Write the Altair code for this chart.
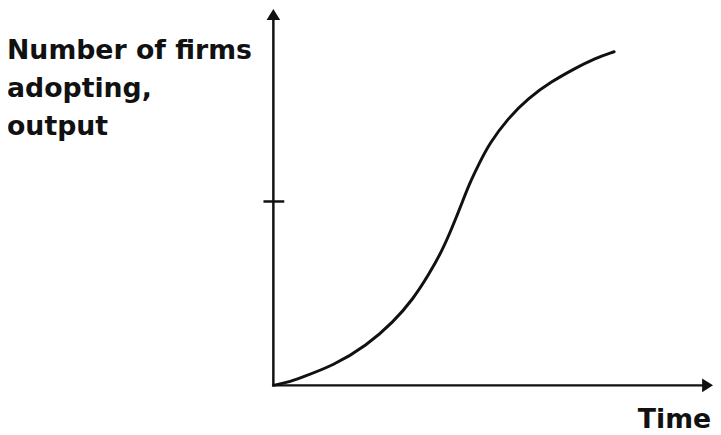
import altair as alt
import pandas as pd

# Data (arbitrary units: time 0-10, output 0-10)
curve_time = [0.0, 0.32, 0.61, 1.37, 2.12, 2.73, 3.18, 3.54, 3.85, 4.10, 4.28, 4.46, 4.68, 4.91, 5.34, 5.79, 6.33, 6.85, 7.30, 7.75]
curve_output = [0.0, 0.08, 0.20, 0.53, 1.06, 1.69, 2.30, 2.96, 3.61, 4.30, 4.83, 5.38, 5.91, 6.44, 7.12, 7.65, 8.10, 8.44, 8.71, 8.89]
tick_level = [4.9]
y_label_lines = ["Number of firms", "adopting,", "output"]
x_label = "Time"

INK = "#111111"
FONT = "DejaVu Sans"
W, H = 444, 379

xs = alt.Scale(domain=[0, 10])
ys = alt.Scale(domain=[0, 10])

curve_df = pd.DataFrame({"t": curve_time, "v": curve_output})
curve = alt.Chart(curve_df).mark_line(
    color=INK, strokeWidth=3, interpolate="basis", strokeCap="round"
).encode(
    x=alt.X("t:Q", scale=xs, axis=None),
    y=alt.Y("v:Q", scale=ys, axis=None),
)

one = pd.DataFrame({"a": [0]})

y_axis = alt.Chart(one).mark_rule(color=INK, strokeWidth=2.5).encode(
    x=alt.X(datum=0, scale=xs, axis=None),
    y=alt.Y(datum=0, scale=ys, axis=None),
    y2=alt.value(8),
)
x_axis = alt.Chart(one).mark_rule(color=INK, strokeWidth=2.5).encode(
    y=alt.Y(datum=0, scale=ys, axis=None),
    x=alt.X(datum=0, scale=xs, axis=None),
    x2=alt.value(W - 8),
)
y_arrow = alt.Chart(one).mark_point(
    shape="M0,-1L1.25,1L-1.25,1Z", filled=True, opacity=1, color=INK, size=121
).encode(
    x=alt.X(datum=0, scale=xs, axis=None),
    y=alt.value(4.5),
)
x_arrow = alt.Chart(one).mark_point(
    shape="M1,0L-1,1.25L-1,-1.25Z", filled=True, opacity=1, color=INK, size=121
).encode(
    x=alt.value(W - 5.5),
    y=alt.Y(datum=0, scale=ys, axis=None),
)

tick_df = pd.DataFrame({"lvl": tick_level})
tick = alt.Chart(tick_df).mark_rule(color=INK, strokeWidth=2.5).encode(
    y=alt.Y("lvl:Q", scale=ys, axis=None),
    x=alt.value(-10),
    x2=alt.value(11),
)

label_df = pd.DataFrame({"txt": y_label_lines, "row": list(range(len(y_label_lines)))})
ylab = alt.Chart(label_df).mark_text(
    align="left", baseline="alphabetic", font=FONT, fontWeight="bold", fontSize=27, color=INK
).transform_calculate(
    py="49 + datum.row * 38.5"
).encode(
    x=alt.value(-269),
    y=alt.Y("py:Q", scale=alt.Scale(domain=[0, H], range=[0, H]), axis=None),
    text="txt:N",
)

xlab = alt.Chart(pd.DataFrame({"txt": [x_label]})).mark_text(
    align="left", baseline="alphabetic", font=FONT, fontWeight="bold", fontSize=27, color=INK
).encode(
    x=alt.value(368),
    y=alt.value(422),
    text="txt:N",
)

chart = alt.layer(
    curve, y_axis, x_axis, y_arrow, x_arrow, tick, ylab, xlab
).resolve_scale(y="independent").properties(
    width=W, height=H,
    autosize=alt.AutoSizeParams(type="none"),
    padding={"left": 268, "top": 0, "right": 0, "bottom": 48},
    view=alt.ViewBackground(stroke="transparent", strokeWidth=0),
).configure_view(stroke="transparent", strokeWidth=0).configure(background="white")

chart.save("out.html", embed_options={"renderer": "svg", "actions": False})
